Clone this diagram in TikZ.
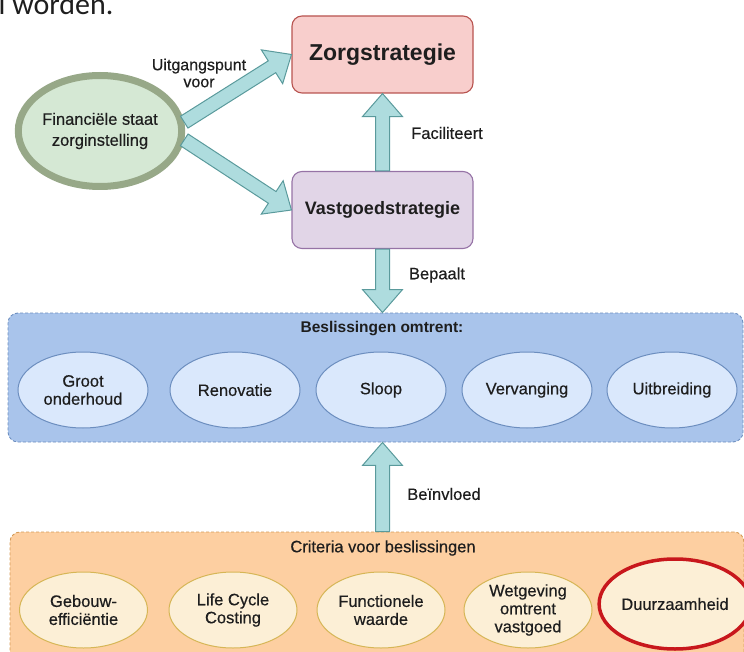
\documentclass[tikz,border=0pt]{standalone}
\usepackage{fontspec}
\setmainfont{Liberation Sans}
\newfontfamily\medfont{Liberation Sans}[FakeBold=0.45]
\newfontfamily\bodyfont{Carlito}
\usetikzlibrary{calc,shapes.geometric}

\definecolor{zorgfill}{HTML}{F8CECC}
\definecolor{zorgline}{HTML}{B85450}
\definecolor{vastfill}{HTML}{E1D5E7}
\definecolor{vastline}{HTML}{9673A6}
\definecolor{finfill}{HTML}{D5E8D4}
\definecolor{finline}{HTML}{97A888}
\definecolor{flexfill}{HTML}{AEDCDE}
\definecolor{flexline}{HTML}{5A9A9C}
\definecolor{bluebg}{HTML}{A9C4EB}
\definecolor{blueline}{HTML}{6C8EBF}
\definecolor{bluefill}{HTML}{DAE8FC}
\definecolor{orangebg}{HTML}{FDCFA1}
\definecolor{orangeline}{HTML}{D49A55}
\definecolor{creamfill}{HTML}{FCEFD6}
\definecolor{creamline}{HTML}{D6B656}
\definecolor{redline}{HTML}{C8171C}
\definecolor{ink}{HTML}{1E1E1E}

\tikzset{
  txt/.style={text=ink, font=\medfont\fontsize{16.5}{18}\selectfont, align=center, inner sep=0pt},
  stratbox/.style={draw, rounded corners=10pt, line width=1.1pt,
    minimum width=181pt, minimum height=77pt, text=ink, align=center},
  container/.style={draw, dashed, dash pattern=on 3pt off 2pt, line width=0.9pt,
    rounded corners=10pt, inner sep=0pt},
  option/.style={ellipse, draw=blueline, fill=bluefill, line width=1pt,
    minimum width=130pt, minimum height=76pt, inner sep=0pt, txt},
  criterion/.style={ellipse, draw=creamline, fill=creamfill, line width=1pt,
    minimum width=128pt, minimum height=76pt, inner sep=0pt, txt},
  flex/.style={fill=flexfill, draw=flexline, line width=1pt, line join=miter},
}

% block arrow from #1 to #2 (tip at #2)
\newcommand\blockarrow[2]{%
  \filldraw[flex]
    ($(#1)!7pt!90:(#2)$) --
    ($(#2)!23pt!(#1)!7pt!-90:(#1)$) --
    ($(#2)!23pt!(#1)!20pt!-90:(#1)$) --
    (#2) --
    ($(#2)!23pt!(#1)!20pt!90:(#1)$) --
    ($(#2)!23pt!(#1)!7pt!90:(#1)$) --
    ($(#1)!7pt!-90:(#2)$) -- cycle;
}

\begin{document}
\begin{tikzpicture}[x=1pt, y=-1pt]
\useasboundingbox (0,0) rectangle (744,652);
\clip (0,0) rectangle (744,652);

% running text above the figure
\node[anchor=base west, inner sep=0pt, text=ink,
  font=\bodyfont\fontsize{30}{36}\selectfont] (doc) at (-1.5,15) {l worden.};

% containers
\node[container, fill=bluebg, draw=blueline,
  minimum width=735pt, minimum height=129pt] (besl) at (375.5,377.5) {};
\node[container, fill=orangebg, draw=orangeline,
  minimum width=734pt, minimum height=140pt] (crit) at (377,602) {};

\node[txt, font=\fontsize{15.5}{18}\selectfont\bfseries] (besltitle) at (382,329) {Beslissingen omtrent:};
\node[txt, font=\medfont\fontsize{16.5}{18}\selectfont] (crittitle) at (383,548) {Criteria voor beslissingen};

% strategy boxes
\node[stratbox, fill=zorgfill, draw=zorgline] (zorg) at (382.5,54.5)
  {\fontsize{23}{27}\selectfont\bfseries Zorgstrategie};
\node[stratbox, fill=vastfill, draw=vastline] (vast) at (382.5,210)
  {\fontsize{18}{21}\selectfont\bfseries Vastgoedstrategie};

% financial position
\node[ellipse, draw=finline, fill=finfill, line width=7pt,
  minimum width=163pt, minimum height=111pt, inner sep=0pt, txt,
  font=\medfont\fontsize{16.5}{21}\selectfont] (fin) at (100,131)
  {Financiële staat\\zorginstelling};

% decisions
\node[option] (o1) at (83,390) {Groot\\onderhoud};
\node[option] (o2) at (235,390) {Renovatie};
\node[option] (o3) at (381,390) {Sloop};
\node[option] (o4) at (527,390) {Vervanging};
\node[option] (o5) at (672,390) {Uitbreiding};

% criteria
\node[criterion] (c1) at (83.5,610) {Gebouw-\\efficiëntie};
\node[criterion] (c2) at (233,610) {Life Cycle\\Costing};
\node[criterion] (c3) at (381,610) {Functionele\\waarde};
\node[criterion] (c4) at (528,610) {Wetgeving\\omtrent\\vastgoed};
\node[criterion, draw=redline, line width=3.5pt,
  minimum width=124pt, minimum height=90pt] (c5) at (675,604) {Duurzaamheid};

% connectors
\coordinate (finA) at (fin.6);
\coordinate (finB) at (fin.-6);
\coordinate (beslTop) at (vast.south |- besl.north);
\coordinate (beslBot) at (vast.south |- besl.south);
\coordinate (critTop) at (vast.south |- crit.north);

\blockarrow{finA}{zorg.west}
\blockarrow{finB}{vast.west}
\blockarrow{vast.north}{zorg.south}
\blockarrow{vast.south}{beslTop}
\blockarrow{critTop}{beslBot}

% connector labels
\node[txt, font=\medfont\fontsize{16}{17}\selectfont] (l1) at (199,73) {Uitgangspunt\\voor};
\node[txt] (l2) at (447,133) {Faciliteert};
\node[txt] (l3) at (437,275) {Bepaalt};
\node[txt] (l4) at (444,494) {Beïnvloed};
\end{tikzpicture}
\end{document}
